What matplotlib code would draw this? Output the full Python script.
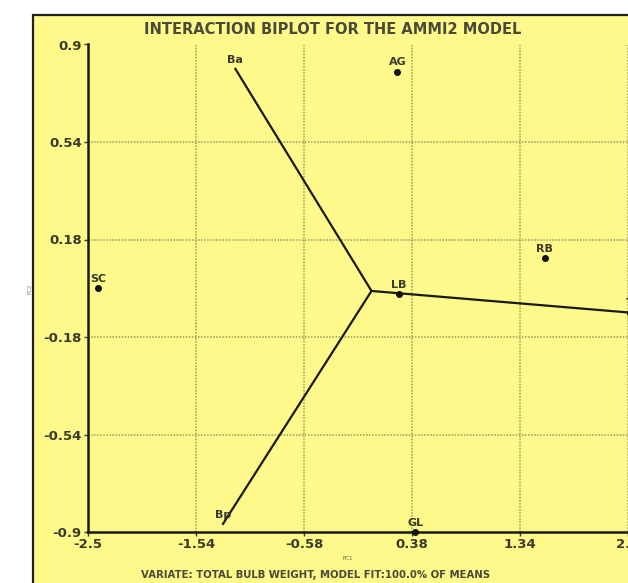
import matplotlib.pyplot as plt
from matplotlib.patches import Rectangle

# Scores AMMI (PC1, PC2)
rotulos = ["Ba", "AG", "SC", "LB", "RB", "T", "Bp", "GL"]
pc1 = [-1.19, 0.25, -2.41, 0.26, 1.56, 2.32, -1.30, 0.41]
pc2 = [0.81, 0.80, 0.00, -0.02, 0.11, -0.09, -0.87, -0.90]
com_ponto = ["AG", "SC", "LB", "RB", "T", "GL"]

# vertice de onde saem os raios do poligono
vertice = (0.02, -0.01)
extremos = ["Ba", "Bp", "T"]

ticks_x = [-2.5, -1.54, -0.58, 0.38, 1.34, 2.3]
ticks_y = [-0.9, -0.54, -0.18, 0.18, 0.54, 0.9]

AMARELO = "#fdf98a"
GRADE = "#9c9a5a"
TEXTO = "#3a3a28"

fig = plt.figure(figsize=(6.28, 5.83), dpi=100)
fig.patch.set_facecolor("white")
moldura = Rectangle((33 / 628, -0.1), 1.2, (583 - 15) / 583 + 0.1,
                    transform=fig.transFigure, facecolor=AMARELO,
                    edgecolor="#222222", linewidth=1.6, zorder=-10)
fig.patches.append(moldura)

ax = fig.add_axes([88 / 628, (583 - 532) / 583, (5.76 * 112.5) / 628, 487.5 / 583])
ax.set_facecolor("none")
ax.set_xlim(-2.5, 3.26)
ax.set_ylim(-0.9, 0.9)

for x in ticks_x[1:]:
    ax.axvline(x, color=GRADE, linestyle=(0, (1, 1)), linewidth=1.1, zorder=0)
for y in ticks_y[1:-1]:
    ax.axhline(y, color=GRADE, linestyle=(0, (1, 1)), linewidth=1.1, zorder=0)

indice = {r: i for i, r in enumerate(rotulos)}
for nome in extremos:
    i = indice[nome]
    ax.plot([vertice[0], pc1[i]], [vertice[1], pc2[i]], color="#1a1a10",
            linewidth=1.6, zorder=3, clip_on=False)

for r, x, y in zip(rotulos, pc1, pc2):
    if r in com_ponto:
        ax.plot(x, y, "o", color="#111111", markersize=4, zorder=4, clip_on=False)
    ax.annotate(r, (x, y), xytext=(0, 3), textcoords="offset points",
                ha="center", va="bottom", fontsize=8, fontweight="bold",
                color=TEXTO, annotation_clip=False)

for lado in ["top", "right"]:
    ax.spines[lado].set_visible(False)
for lado in ["left", "bottom"]:
    ax.spines[lado].set_linewidth(1.8)
    ax.spines[lado].set_color("#1a1a10")

ax.set_xticks(ticks_x)
ax.set_xticklabels(["-2.5", "-1.54", "-0.58", "0.38", "1.34", "2.3"])
ax.set_yticks(ticks_y)
ax.set_yticklabels(["-0.9", "-0.54", "-0.18", "0.18", "0.54", "0.9"])
ax.tick_params(labelsize=9.5, length=3, width=1, colors=TEXTO, pad=1.5)
for t in ax.get_xticklabels() + ax.get_yticklabels():
    t.set_fontweight("bold")

ax.set_xlabel("PC1", fontsize=4, color="#666644", labelpad=2)
ax.xaxis.set_label_coords(260 / 648, -0.05)
ax.set_ylabel("PC2", fontsize=4, color="#888866", labelpad=8)

fig.text(333 / 628, (583 - 30) / 583, "INTERACTION BIPLOT FOR THE AMMI2 MODEL",
         ha="center", va="center", fontsize=10.5, fontweight="bold", color="#4a4a36")
fig.text(316 / 628, (583 - 575) / 583,
         "VARIATE: TOTAL BULB WEIGHT, MODEL FIT:100.0% OF MEANS",
         ha="center", va="center", fontsize=7.3, fontweight="bold", color="#4a4a36")

fig.savefig("out.png", dpi=100)
plt.close(fig)
